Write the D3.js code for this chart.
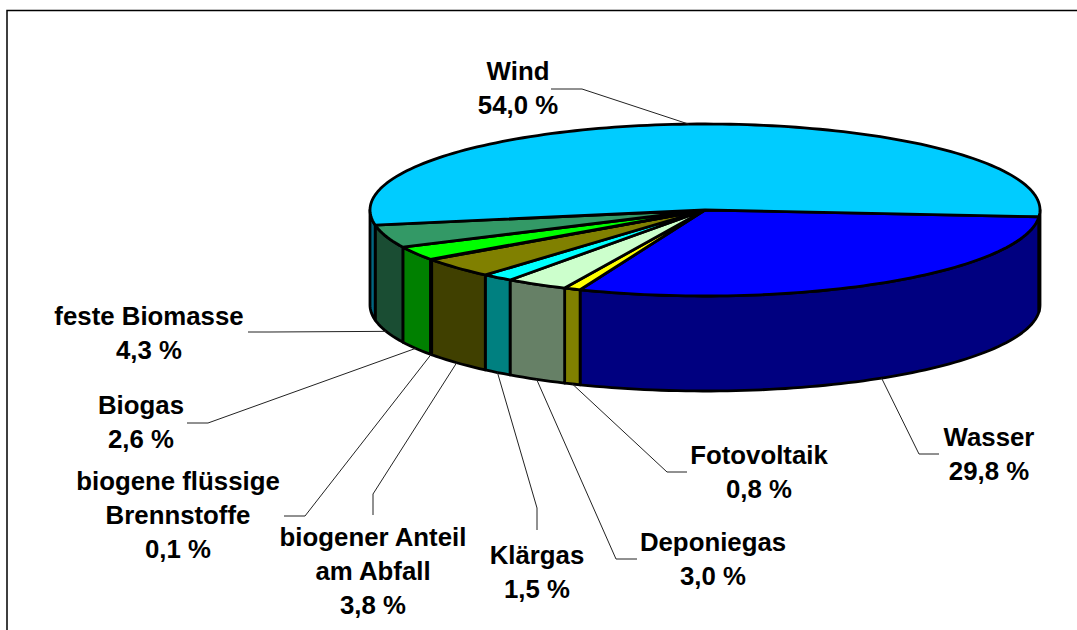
<!DOCTYPE html>
<html>
<head>
<meta charset="utf-8">
<script src="https://cdn.jsdelivr.net/npm/d3@7.9.0/dist/d3.min.js"></script>
<style>
  html, body { margin: 0; padding: 0; background: #fff; }
  svg { display: block; }
  text { font-family: "Liberation Sans", Arial, sans-serif; font-weight: bold; font-size: 25.8px; fill: #000; text-anchor: middle; }
</style>
</head>
<body>
<svg id="chart" width="1077" height="630"></svg>
<script>
const names = ['Wasser', 'Fotovoltaik', 'Deponiegas', 'Klärgas', 'biogener Anteil am Abfall',
  'biogene flüssige Brennstoffe', 'Biogas', 'feste Biomasse', 'Wind'];
const values = [29.8, 0.8, 3.0, 1.5, 3.8, 0.1, 2.6, 4.3, 54.0];
const topColors = ['#0000ff', '#ffff00', '#ccffcc', '#00ffff', '#808000', '#666699', '#00ff00', '#339966', '#00ccff'];
const sideColors = ['#000080', '#808000', '#668066', '#008080', '#404000', '#333366', '#008000', '#1a4d33', '#006680'];
const labelLines = [
  ['Wasser', '29,8 %'],
  ['Fotovoltaik', '0,8 %'],
  ['Deponiegas', '3,0 %'],
  ['Klärgas', '1,5 %'],
  ['biogener Anteil', 'am Abfall', '3,8 %'],
  ['biogene flüssige', 'Brennstoffe', '0,1 %'],
  ['Biogas', '2,6 %'],
  ['feste Biomasse', '4,3 %'],
  ['Wind', '54,0 %']
];
// label centre x, first baseline y
const labelPos = [[989, 446], [759, 464], [713, 551], [537, 564], [373, 546], [178, 490], [141, 414], [149, 325], [518, 80]];
// leader line: elbow, then end near the label
const leaderBends = [
  [[919, 454], [939, 454]],
  [[667, 472], [687, 472]],
  [[616, 559], [637, 559]],
  [[537, 508], [537, 530]],
  [[373, 494], [373, 515]],
  [[305, 516], [284, 516]],
  [[208, 423], [187, 423]],
  [[270, 332], [248, 332]],
  [[582, 89], [551, 89]]
];

const cx = 705, cy = 210, rx = 335, ry = 86, depth = 95;
const startDeg = 4.5;

const svg = d3.select('#chart');

// frame, only top and left are in view
svg.append('path').attr('d', 'M7,630V10.5H1077').attr('fill', 'none').attr('stroke', '#000').attr('stroke-width', 1.5);

// angle 0 is to the right, growing clockwise on screen
const slices = d3.pie().sort(null).value((d) => d)
  .startAngle(startDeg * Math.PI / 180)
  .endAngle((startDeg + 360) * Math.PI / 180)(values);

const px = (a) => cx + rx * Math.cos(a);
const py = (a) => cy + ry * Math.sin(a);

function arcPts(a0, a1, dy) {
  const n = Math.max(2, Math.ceil(Math.abs(a1 - a0) * 40));
  return d3.range(n + 1).map((i) => {
    const a = a0 + (a1 - a0) * i / n;
    return [px(a), py(a) + dy];
  });
}
const line = d3.line();

// the part of the rim that faces the viewer
function wallRanges(s) {
  const out = [];
  for (const [lo, hi] of [[0, Math.PI], [2 * Math.PI, 3 * Math.PI]]) {
    const a = Math.max(s.startAngle, lo), b = Math.min(s.endAngle, hi);
    if (b > a) out.push([a, b]);
  }
  return out;
}

const walls = svg.append('g');
slices.forEach((s, i) => {
  wallRanges(s).forEach(([a, b]) => {
    const pts = arcPts(a, b, 0).concat(arcPts(b, a, depth));
    walls.append('path').attr('d', line(pts) + 'Z')
      .attr('fill', sideColors[i]).attr('stroke', '#000').attr('stroke-width', 2.8).attr('stroke-linejoin', 'round');
  });
});

const tops = svg.append('g');
slices.forEach((s, i) => {
  const pts = [[cx, cy]].concat(arcPts(s.startAngle, s.endAngle, 0));
  tops.append('path').attr('d', line(pts) + 'Z')
    .attr('fill', topColors[i]).attr('stroke', '#000').attr('stroke-width', 2.8).attr('stroke-linejoin', 'round');
});

// leader lines start on the rim at the middle of each slice
const leaders = svg.append('g');
slices.forEach((s, i) => {
  const mid = (s.startAngle + s.endAngle) / 2;
  const onFront = Math.sin(mid) > 0;
  const start = [px(mid), py(mid) + (onFront ? depth : 0)];
  leaders.append('path').attr('d', line([start, ...leaderBends[i]]))
    .attr('fill', 'none').attr('stroke', '#222').attr('stroke-width', 1);
});

const labels = svg.append('g');
labelLines.forEach((lines, i) => {
  const t = labels.append('text').attr('x', labelPos[i][0]).attr('y', labelPos[i][1]);
  lines.forEach((l, j) => {
    t.append('tspan').attr('x', labelPos[i][0]).attr('dy', j ? 34 : 0).text(l);
  });
});
</script>
</body>
</html>
